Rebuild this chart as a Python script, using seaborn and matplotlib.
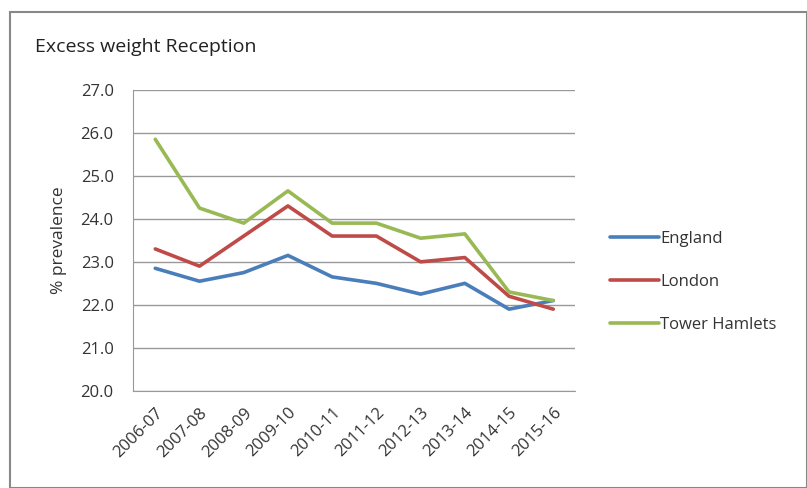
import pandas as pd
import matplotlib.pyplot as plt
import seaborn as sns
import numpy as np

years = ["2006-07", "2007-08", "2008-09", "2009-10", "2010-11",
         "2011-12", "2012-13", "2013-14", "2014-15", "2015-16"]
england = [22.85, 22.55, 22.75, 23.15, 22.65, 22.5, 22.25, 22.5, 21.9, 22.1]
london = [23.3, 22.9, 23.6, 24.3, 23.6, 23.6, 23.0, 23.1, 22.2, 21.9]
tower_hamlets = [25.85, 24.25, 23.9, 24.65, 23.9, 23.9, 23.55, 23.65, 22.3, 22.1]

series = {"England": england, "London": london, "Tower Hamlets": tower_hamlets}
df = pd.DataFrame([
    {"Year": y, "Area": name, "Prevalence": v}
    for name, vals in series.items() for y, v in zip(years, vals)
])

palette = {"England": "#4a7ebb", "London": "#be4b48", "Tower Hamlets": "#98b954"}

sns.set_style("white")
plt.rcParams['font.family'] = ['Open Sans', 'DejaVu Sans']

fig = plt.figure(figsize=(8.07, 4.88), dpi=100)
ax = fig.add_axes([0.165, 0.199, 0.548, 0.617])

sns.lineplot(data=df, x="Year", y="Prevalence", hue="Area", palette=palette,
             linewidth=2.6, sort=False, ax=ax)

ax.set_ylim(20, 27)
ax.set_yticks(np.arange(20, 27.1, 1))
ax.set_yticklabels([f"{v:.1f}" for v in np.arange(20, 27.1, 1)], fontsize=12, color="#333333")
ax.set_xlim(-0.5, len(years) - 0.5)
ax.set_xticks(range(len(years)))
ax.set_xticklabels(years, rotation=45, ha="right", rotation_mode="anchor",
                   fontsize=12, color="#333333")
ax.set_xticks(np.arange(-0.5, len(years)), minor=True)
ax.tick_params(axis="x", which="major", length=0, pad=10)
ax.tick_params(axis="x", which="minor", length=5, color="#999999", direction="out")
ax.tick_params(axis="y", length=0, pad=14)
ax.grid(axis="y", color="#999999", linewidth=1)
ax.set_axisbelow(True)
for s in ["top", "right"]:
    ax.spines[s].set_visible(False)
for s in ["left", "bottom"]:
    ax.spines[s].set_color("#999999")
ax.set_xlabel("")
ax.set_ylabel("% prevalence", fontsize=12.5, color="#333333", labelpad=10)

leg = ax.legend(loc="center left", bbox_to_anchor=(1.045, 0.362), frameon=False,
                fontsize=12, handlelength=2.9, handletextpad=0.1, labelspacing=1.6)
for line in leg.get_lines():
    line.set_linewidth(2.6)
for t in leg.get_texts():
    t.set_color("#333333")

fig.text(0.043, 0.903, "Excess weight Reception", fontsize=14, color="#222222", va="center")

border = plt.Rectangle((0.012, 0.0), 0.988, 0.975, transform=fig.transFigure,
                       fill=False, edgecolor="#888888", linewidth=1.5)
fig.patches.append(border)

fig.savefig("out.png", dpi=100)
